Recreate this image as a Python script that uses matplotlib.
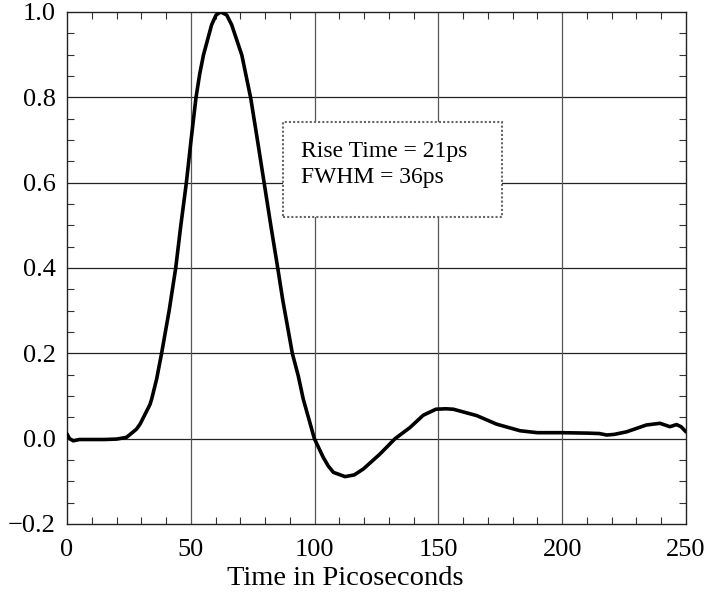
import matplotlib
matplotlib.use("Agg")
import matplotlib.pyplot as plt
from matplotlib.patches import Rectangle
from matplotlib.ticker import MultipleLocator

time_ps = [0, 1, 2.5, 5, 10, 15, 20, 24, 28, 29.5, 33.5, 34.2, 36.2, 38.2, 41.3, 43.9,
           45.9, 48.2, 50.1, 52.1, 53.6, 55.1, 58.4, 60.2, 62.1, 64.5, 66.5, 70.6, 74.2,
           76.9, 79.6, 82.3, 85.1, 87.1, 91, 93.4, 95.4, 99.9, 103.5, 105.5, 107.6,
           112.3, 116, 119.7, 126.4, 132.5, 138.5, 143.9, 149, 153, 156, 165.5, 173.5,
           183, 190, 200, 210, 215, 218, 221, 226, 234, 239.5, 243.5, 246.2, 248, 250]
amplitude = [0.011, 0.0, -0.005, -0.002, -0.002, -0.002, -0.001, 0.003, 0.022, 0.034,
             0.08, 0.093, 0.14, 0.2, 0.302, 0.4, 0.497, 0.6, 0.7, 0.8, 0.855, 0.899,
             0.97, 0.993, 1.0, 0.993, 0.97, 0.899, 0.798, 0.7, 0.6, 0.5, 0.4, 0.326,
             0.2, 0.147, 0.093, 0.0, -0.044, -0.064, -0.079, -0.089, -0.085, -0.071,
             -0.036, 0.0, 0.026, 0.055, 0.069, 0.07, 0.069, 0.054, 0.034, 0.0185,
             0.014, 0.014, 0.013, 0.012, 0.0085, 0.01, 0.016, 0.032, 0.036, 0.028,
             0.033, 0.028, 0.016]

x_ticks = [0, 50, 100, 150, 200, 250]
y_ticks = [-0.2, 0.0, 0.2, 0.4, 0.6, 0.8, 1.0]
x_label = "Time in Picoseconds"
annotation_lines = ["Rise Time = 21ps", "FWHM = 36ps"]

plt.rcParams['font.family'] = ['Liberation Serif', 'DejaVu Serif']

fig = plt.figure(figsize=(7.07, 5.97), dpi=100)
ax = fig.add_axes([0.0948, 0.1223, 0.8755, 0.8576])

ax.set_xlim(0, 250)
ax.set_ylim(-0.2, 1.0)
ax.set_xticks(x_ticks)
ax.set_yticks(y_ticks)
ax.set_yticklabels([f"{v:.1f}".replace('-', '\u2212') for v in y_ticks])
ax.xaxis.set_minor_locator(MultipleLocator(10))
ax.yaxis.set_minor_locator(MultipleLocator(0.05))

for v in y_ticks[1:-1]:
    ax.axhline(v, color='#222222', lw=0.9, zorder=1)
for v in x_ticks[1:-1]:
    ax.axvline(v, color='#555555', lw=0.9, zorder=1)

ax.plot(time_ps, amplitude, color='black', lw=2.6, zorder=3,
        solid_joinstyle='round', solid_capstyle='round')

ax.tick_params(which='both', direction='in', top=True, right=True, labelsize=19)
ax.tick_params(axis='y', which='major', length=0, pad=8)
ax.tick_params(axis='x', which='major', length=0, pad=11)
ax.tick_params(which='minor', length=5, width=0.8, color='#333333')
for s in ax.spines.values():
    s.set_linewidth(1.0)
    s.set_color('#222222')

ax.set_xlabel(x_label, fontsize=20.5)
ax.xaxis.set_label_coords(0.45, -0.082)

box = Rectangle((87.2, 0.52), 88.5, 0.222, transform=ax.transData, fill=True,
                facecolor='white', edgecolor='#666666', lw=1.5, linestyle=(0, (1, 1)),
                zorder=4)
ax.add_patch(box)
ax.text(94.3, 0.661, annotation_lines[0], fontsize=17, va='baseline', ha='left', zorder=5)
ax.text(94.3, 0.599, annotation_lines[1], fontsize=17, va='baseline', ha='left', zorder=5)

fig.savefig("out.png", dpi=100)
